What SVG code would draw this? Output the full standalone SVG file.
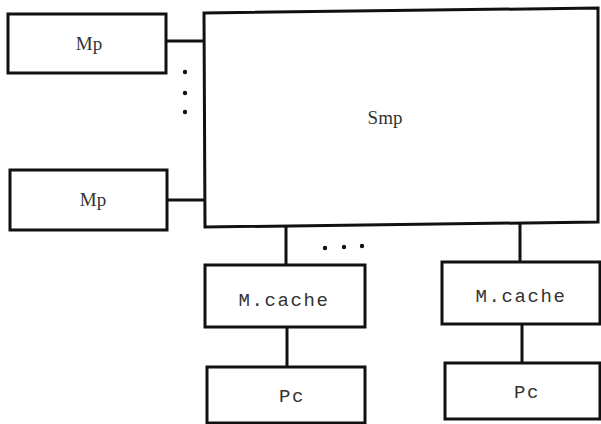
<svg xmlns="http://www.w3.org/2000/svg" width="601" height="424" viewBox="0 0 601 424">
<style>
.box{fill:#fff;stroke:#111;stroke-width:3}
.ln{stroke:#111;stroke-width:3;fill:none}
.dot{fill:#111}
.serif{font-family:"Liberation Serif",serif;font-size:19px;fill:#333;text-anchor:middle}
.mono{font-family:"Liberation Mono",monospace;font-size:19px;letter-spacing:1.6px;fill:#333;text-anchor:middle}
</style>
<rect width="601" height="424" fill="#fff"/>
<g id="connectors">
<line class="ln" x1="166" y1="41" x2="204" y2="41"/>
<line class="ln" x1="167" y1="200" x2="204" y2="200"/>
<line class="ln" x1="286" y1="226" x2="286" y2="265"/>
<line class="ln" x1="287" y1="327" x2="287" y2="367"/>
<line class="ln" x1="520" y1="222" x2="520" y2="262"/>
<line class="ln" x1="522" y1="324" x2="522" y2="363"/>
<circle class="dot" cx="185" cy="72" r="2.2"/>
<circle class="dot" cx="185" cy="93" r="2.2"/>
<circle class="dot" cx="185" cy="112" r="2.2"/>
<circle class="dot" cx="325" cy="248" r="2.2"/>
<circle class="dot" cx="344" cy="247" r="2.2"/>
<circle class="dot" cx="362" cy="246" r="2.2"/>
</g>
<g id="mp1"><rect class="box" x="8" y="14" width="158" height="59"/><text class="serif" x="89" y="50">Mp</text></g>
<g id="mp2"><rect class="box" x="10" y="170" width="157" height="60"/><text class="serif" x="93" y="206">Mp</text></g>
<g id="smp"><path class="box" d="M204 13 L598 8 L598 222 L205 227 Z"/><text class="serif" x="385" y="124">Smp</text></g>
<g id="mcache1"><rect class="box" x="205" y="265" width="160" height="62"/><text class="mono" x="284" y="306">M.cache</text></g>
<g id="mcache2"><rect class="box" x="442" y="262" width="158" height="62"/><text class="mono" x="521" y="302">M.cache</text></g>
<g id="pc1"><rect class="box" x="207" y="367" width="158" height="56"/><text class="mono" x="292" y="402">Pc</text></g>
<g id="pc2"><rect class="box" x="445" y="363" width="155" height="56"/><text class="mono" x="527" y="398">Pc</text></g>
</svg>
